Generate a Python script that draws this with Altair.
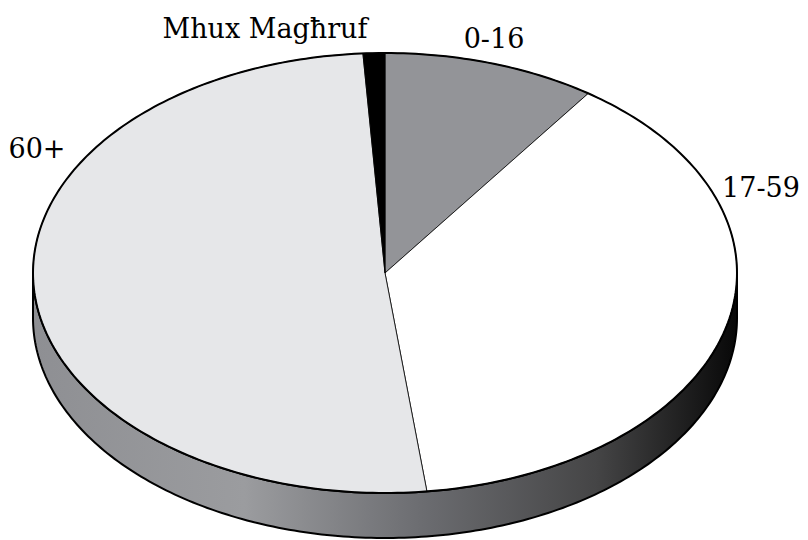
import numpy as np
import pandas as pd
import altair as alt

# ---- data ----
categories = ["0-16", "17-59", "60+", "Mhux Magħruf"]
values = [9.8, 38.3, 50.9, 1.0]
colors = ["#939498", "#ffffff", "#e6e7e9", "#000000"]

# ---- layout (pixels inside the plot area) ----
W, H = 792, 532
CX, CY, RX, RY, DEPTH = 377, 265, 352, 220, 45
label_pos = {  # label anchor (center, baseline)
    "0-16": (486, 40),
    "17-59": (753, 189),
    "60+": (29, 150),
    "Mhux Magħruf": (257, 30),
}


def pt(angle_deg, dy=0.0):
    a = np.radians(angle_deg)
    return CX + RX * np.sin(a), CY - RY * np.cos(a) + dy


# slice polygons
rows = []
total = float(sum(values))
start = 0.0
for cat, v in zip(categories, values):
    span = 360.0 * v / total
    n = max(int(span * 2), 3)
    angs = np.linspace(start, start + span, n)
    rows.append(dict(slice=cat, i=0, x=CX, y=CY))
    for k, a in enumerate(angs):
        x, y = pt(a)
        rows.append(dict(slice=cat, i=k + 1, x=x, y=y))
    rows.append(dict(slice=cat, i=n + 1, x=CX, y=CY))
    start += span
slices_df = pd.DataFrame(rows)

# side band (front half of the cylinder)
side = []
j = 0
for a in np.linspace(90, 270, 200):
    x, y = pt(a, DEPTH)
    side.append(dict(i=j, x=x, y=y)); j += 1
for a in np.linspace(270, 90, 200):
    x, y = pt(a)
    side.append(dict(i=j, x=x, y=y)); j += 1
side.append(dict(i=j, x=side[0]["x"], y=side[0]["y"]))
side_df = pd.DataFrame(side)

# outline of the top face
outline = []
for k, a in enumerate(np.linspace(0, 360, 361)):
    x, y = pt(a)
    outline.append(dict(i=k, x=x, y=y))
outline_df = pd.DataFrame(outline)

labels_df = pd.DataFrame({
    "label": categories,
    "x": [label_pos[c][0] for c in categories],
    "y": [label_pos[c][1] for c in categories],
})

xs = alt.X("x:Q", scale=alt.Scale(domain=[0, W], nice=False, zero=False), axis=None)
ys = alt.Y("y:Q", scale=alt.Scale(domain=[0, H], nice=False, zero=False, reverse=True), axis=None)

grad = alt.LinearGradient(
    gradient="linear", x1=0, x2=1, y1=0, y2=0,
    stops=[
        alt.GradientStop(offset=0.0, color="#8e8f93"),
        alt.GradientStop(offset=0.3, color="#9b9c9f"),
        alt.GradientStop(offset=0.55, color="#6c6d71"),
        alt.GradientStop(offset=0.8, color="#454546"),
        alt.GradientStop(offset=1.0, color="#080808"),
    ],
)

side_layer = alt.Chart(side_df).mark_line(
    filled=True, fill=grad, stroke="black", strokeWidth=2, strokeJoin="round"
).encode(x=xs, y=ys, order="i:Q")

slice_layer = alt.Chart(slices_df).mark_line(
    filled=True, stroke="black", strokeWidth=0.8, strokeJoin="round"
).encode(
    x=xs, y=ys, order="i:Q", detail="slice:N",
    color=alt.Color("slice:N", scale=alt.Scale(domain=categories, range=colors), legend=None),
)

outline_layer = alt.Chart(outline_df).mark_line(
    stroke="black", strokeWidth=2
).encode(x=xs, y=ys, order="i:Q")

text_layer = alt.Chart(labels_df).mark_text(
    font="DejaVu Serif", fontSize=27, color="black", align="center", baseline="alphabetic"
).encode(x=xs, y=ys, text="label:N")

chart = alt.layer(side_layer, slice_layer, outline_layer, text_layer).properties(
    width=W, height=H, padding=0, autosize="none"
).configure_view(stroke=None)

chart.save("out.html", embed_options={"renderer": "svg", "actions": False})
